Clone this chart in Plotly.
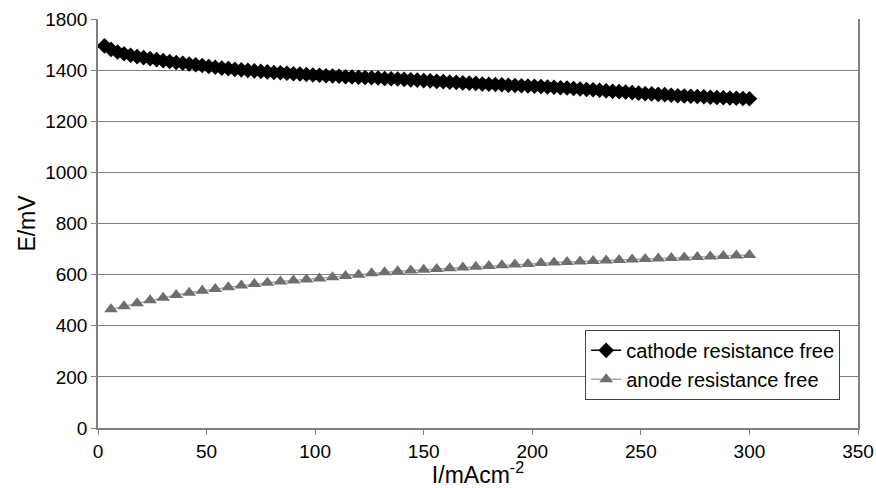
import plotly.graph_objects as go

# Data
current_cathode = [3 * (i + 1) for i in range(100)]  # 3 ... 300 mA/cm2
cathode_E = [
    1495, 1481, 1471, 1464, 1458, 1453, 1449, 1445, 1441, 1437,
    1434, 1430, 1427, 1424, 1421, 1418, 1414, 1411, 1408, 1406,
    1403, 1401, 1399, 1397, 1395, 1393, 1391, 1390, 1388, 1386,
    1385, 1383, 1381, 1380, 1378, 1377, 1376, 1374, 1373, 1372,
    1371, 1370, 1369, 1367, 1366, 1365, 1364, 1362, 1361, 1359,
    1358, 1356, 1355, 1353, 1352, 1350, 1349, 1348, 1346, 1345,
    1344, 1343, 1341, 1340, 1339, 1338, 1337, 1336, 1334, 1333,
    1331, 1330, 1328, 1326, 1324, 1323, 1321, 1319, 1317, 1316,
    1314, 1312, 1310, 1308, 1307, 1305, 1304, 1302, 1300, 1299,
    1298, 1297, 1296, 1294, 1293, 1292, 1291, 1290, 1289, 1288,
]

current_anode = [6 * (i + 1) for i in range(50)]  # 6 ... 300 mA/cm2
anode_E = [
    465, 476, 488, 500, 510, 520, 529, 537, 544, 551,
    557, 563, 568, 573, 577, 581, 585, 590, 595, 600,
    605, 609, 613, 616, 619, 622, 625, 628, 631, 634,
    637, 640, 642, 645, 647, 649, 651, 653, 655, 657,
    659, 661, 663, 665, 667, 669, 671, 673, 675, 677,
]

x_ticks = [0, 50, 100, 150, 200, 250, 300, 350]
y_tickvals = [0, 200, 400, 600, 800, 1000, 1200, 1400, 1600]
y_ticktext = ["0", "200", "400", "600", "800", "1000", "1200", "1400", "1800"]

FONT = "Liberation Sans, Arial, sans-serif"
AXIS_GRAY = "#808080"

fig = go.Figure()
fig.add_trace(go.Scatter(
    x=current_cathode, y=cathode_E, mode="lines+markers",
    name="cathode resistance free",
    line=dict(color="black", width=1.5),
    marker=dict(symbol="diamond", size=12, color="black"),
))
fig.add_trace(go.Scatter(
    x=current_anode, y=anode_E, mode="lines+markers",
    name="anode resistance free",
    line=dict(color="#a8a8a8", width=1.5),
    marker=dict(symbol="triangle-up", size=12, color="#6e6e6e"),
))

fig.update_layout(
    width=876, height=488,
    margin=dict(l=98, r=18, t=19, b=60),
    paper_bgcolor="white", plot_bgcolor="white",
    font=dict(family=FONT, size=19, color="black"),
    showlegend=True,
    legend=dict(
        x=0.641, y=0.24, xanchor="left", yanchor="top",
        bgcolor="white", bordercolor="#404040", borderwidth=1,
        font=dict(family=FONT, size=20, color="black"),
        tracegroupgap=0, itemwidth=30,
    ),
)
fig.update_xaxes(
    range=[0, 350], tickvals=x_ticks, ticks="outside", ticklen=5,
    tickcolor=AXIS_GRAY, showline=True, linecolor=AXIS_GRAY, linewidth=1.5,
    showgrid=False, zeroline=False, automargin=False,
    ticklabeloverflow="allow",
    title=dict(text="I/mAcm<sup>-2</sup>", font=dict(size=23), standoff=0),
    tickfont=dict(size=19),
)
fig.update_yaxes(
    range=[0, 1600], tickvals=y_tickvals, ticktext=y_ticktext,
    ticks="outside", ticklen=5, tickcolor=AXIS_GRAY,
    showline=True, linecolor=AXIS_GRAY, linewidth=1.5, mirror=True,
    showgrid=True, gridcolor=AXIS_GRAY, gridwidth=1.2, zeroline=False,
    automargin=False,
    title=dict(text="E/mV", font=dict(size=23), standoff=3),
    tickfont=dict(size=19),
)

fig.write_html(
    "out.html",
    config={"displayModeBar": False},
    post_script="document.body.style.margin='0';document.body.style.overflow='hidden';",
)
